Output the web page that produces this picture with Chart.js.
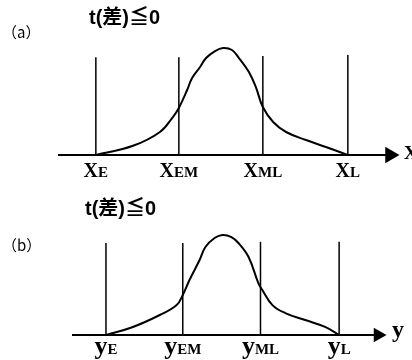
<!DOCTYPE html>
<html>
<head>
<meta charset="utf-8">
<script src="https://cdn.jsdelivr.net/npm/chart.js@4"></script>
<style>
  body { margin: 0; background: #fff; }
  .wrap { position: relative; width: 412px; height: 360px; }
  canvas { position: absolute; left: 0; }
</style>
</head>
<body>
<div class="wrap">
  <canvas id="chartA" width="412" height="180" style="top:0"></canvas>
  <canvas id="chartB" width="412" height="180" style="top:180px"></canvas>
</div>
<script>
// panel titles
const panelNames = ["（a）", "（b）"];
const titleText = "t(差)≦0";

// panel (a): density curve over X
const curveAX = [11.4, 22.6, 30.7, 34.6, 36.4, 38.9, 40.4, 42.8, 44.6, 47.3, 49.7, 52.4, 54.5, 57.5, 59.6, 61.7, 64.8, 68.7, 74.7, 80.7, 87.3];
const curveAY = [0, 8, 20, 33, 40.9, 56.5, 67, 76.5, 84.3, 90.4, 93, 91.3, 84.3, 72.2, 59, 41.7, 28.7, 20, 13, 7, 0];
const markAX = [11.4, 36.4, 61.7, 87.3];
const markATop = [85, 85, 86, 87];
const markASub = ["E", "EM", "ML", "L"];

// panel (b): density curve over y
const curveBX = [11.1, 19.9, 28.7, 34.2, 36.2, 38.4, 41.7, 43.6, 46.6, 49.2, 52.1, 54.4, 57.7, 60.9, 62.2, 65.5, 69.7, 76.2, 82.7, 87.3];
const curveBY = [0, 7, 17.4, 26, 34.8, 47.8, 65.2, 76.5, 84.3, 87, 85.2, 80, 67.8, 45.2, 39.1, 26, 19.1, 13, 7, 0];
const markBX = [11.1, 36.2, 61.6, 87.3];
const markBTop = [80, 80, 81, 81];
const markBSub = ["E", "EM", "ML", "L"];

const serif = "'Liberation Serif', 'DejaVu Serif', serif";

// draws the panel name, the title and the subscripted tick labels
const notesPlugin = {
    id: "notes",
    afterDraw(chart, args, opts) {
        const ctx = chart.ctx;
        const xs = chart.scales.x, ys = chart.scales.y;
        ctx.save();
        ctx.fillStyle = "#000";
        ctx.textBaseline = "alphabetic";

        ctx.font = "15px 'Noto Sans CJK JP', 'DejaVu Sans', sans-serif";
        ctx.textAlign = "left";
        ctx.fillText(opts.name, opts.namePos[0], opts.namePos[1]);

        ctx.font = "bold 20px 'Liberation Sans', 'Noto Sans CJK JP', sans-serif";
        ctx.fillText(titleText, opts.titlePos[0], opts.titlePos[1]);

        const base = ys.getPixelForValue(0) + opts.labelDrop;
        opts.marks.forEach((v, i) => {
            ctx.font = "bold " + opts.mainSize + "px " + serif;
            const w1 = ctx.measureText(opts.main).width;
            ctx.font = "bold " + opts.subSize + "px " + serif;
            const w2 = ctx.measureText(opts.subs[i]).width;
            const left = xs.getPixelForValue(v) - (w1 + w2) / 2;
            ctx.textAlign = "left";
            ctx.font = "bold " + opts.mainSize + "px " + serif;
            ctx.fillText(opts.main, left, base);
            ctx.font = "bold " + opts.subSize + "px " + serif;
            ctx.fillText(opts.subs[i], left + w1, base);
        });

        // axis name after the arrow
        ctx.font = "bold " + opts.axisSize + "px " + serif;
        ctx.fillText(opts.axisName, xs.getPixelForValue(100) + 14, ys.getPixelForValue(0) + opts.axisDrop);
        ctx.restore();
    }
};

function makePanel(id, curveX, curveY, markX, markTop, subs, opts) {
    const datasets = [];
    datasets.push({
        data: curveX.map((x, i) => ({ x: x, y: curveY[i] })),
        showLine: true,
        borderColor: "#000",
        borderWidth: 2,
        pointRadius: 0,
        tension: 0.4,
        clip: false
    });
    markX.forEach((x, i) => {
        datasets.push({
            data: [{ x: x, y: 0 }, { x: x, y: markTop[i] }],
            showLine: true,
            borderColor: "#000",
            borderWidth: 1.5,
            pointRadius: 0,
            clip: false
        });
    });
    // x axis with arrow head
    datasets.push({
        data: [{ x: 0, y: 0 }, { x: 100, y: 0 }],
        showLine: true,
        borderColor: "#000",
        backgroundColor: "#000",
        borderWidth: 2,
        pointStyle: "triangle",
        pointRotation: 90,
        pointRadius: [0, opts.arrow],
        pointBorderWidth: 0,
        clip: false
    });

    return new Chart(document.getElementById(id), {
        type: "scatter",
        data: { datasets: datasets },
        options: {
            responsive: false,
            animation: false,
            events: [],
            layout: { padding: opts.padding },
            scales: {
                x: { type: "linear", min: 0, max: 100, display: false },
                y: { type: "linear", min: 0, max: 100, display: false }
            },
            plugins: {
                legend: { display: false },
                tooltip: { enabled: false },
                notes: {
                    name: opts.name,
                    namePos: opts.namePos,
                    titlePos: opts.titlePos,
                    marks: markX,
                    subs: subs,
                    main: opts.main,
                    mainSize: opts.mainSize,
                    subSize: opts.subSize,
                    labelDrop: opts.labelDrop,
                    axisName: opts.axisName,
                    axisSize: opts.axisSize,
                    axisDrop: opts.axisDrop
                }
            }
        },
        plugins: [notesPlugin]
    });
}

makePanel("chartA", curveAX, curveAY, markAX, markATop, markASub, {
    padding: { left: 58, right: 22, top: 40, bottom: 25 },
    arrow: 9.5,
    name: panelNames[0], namePos: [2, 38],
    titlePos: [89, 24],
    main: "X", mainSize: 20, subSize: 15, labelDrop: 22,
    axisName: "X", axisSize: 19, axisDrop: 4
});

makePanel("chartB", curveBX, curveBY, markBX, markBTop, markBSub, {
    padding: { left: 72, right: 34, top: 40, bottom: 25 },
    arrow: 8.5,
    name: panelNames[1], namePos: [2, 71],
    titlePos: [85, 35],
    main: "y", mainSize: 26, subSize: 15, labelDrop: 19,
    axisName: "y", axisSize: 24, axisDrop: 2
});
</script>
</body>
</html>
